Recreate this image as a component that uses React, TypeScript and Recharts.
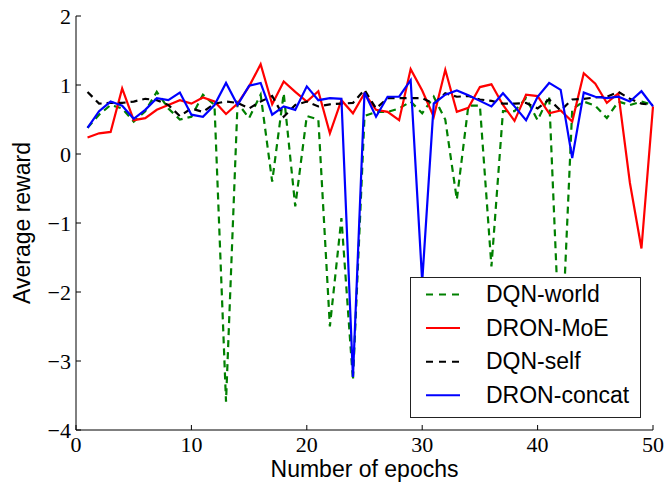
import React from 'react';
import { LineChart, Line, XAxis, YAxis, Legend, Label } from 'recharts';

const epochs = [1, 2, 3, 4, 5, 6, 7, 8, 9, 10, 11, 12, 13, 14, 15, 16, 17, 18, 19, 20, 21, 22, 23, 24, 25, 26, 27, 28, 29, 30, 31, 32, 33, 34, 35, 36, 37, 38, 39, 40, 41, 42, 43, 44, 45, 46, 47, 48, 49, 50];

const dqnWorld = [0.38, 0.57, 0.71, 0.66, 0.47, 0.62, 0.90, 0.66, 0.50, 0.54, 0.86, 0.71, -3.59, 0.74, 0.52, 0.86, -0.40, 0.88, -0.76, 0.55, 0.50, -2.50, -0.93, -3.28, 0.55, 0.61, 0.61, 0.66, 0.76, 0.59, 0.83, 0.50, -0.66, 0.70, 0.70, -1.63, 0.62, 0.62, 0.81, 0.49, 0.84, -3.15, 0.65, 0.76, 0.70, 0.52, 0.76, 0.71, 0.76, 0.71];

const dronMoE = [0.24, 0.30, 0.32, 0.95, 0.49, 0.52, 0.64, 0.71, 0.78, 0.73, 0.82, 0.76, 0.58, 0.73, 0.98, 1.30, 0.72, 1.05, 0.90, 0.76, 0.91, 0.30, 0.78, 0.59, 0.88, 0.64, 0.61, 0.49, 1.23, 0.92, 0.54, 1.22, 0.61, 0.67, 0.97, 1.01, 0.71, 0.48, 0.86, 0.84, 0.59, 0.63, 0.47, 1.17, 1.02, 0.74, 0.88, -0.42, -1.37, 0.69];

const dqnSelf = [0.90, 0.73, 0.74, 0.74, 0.76, 0.80, 0.78, 0.71, 0.55, 0.66, 0.61, 0.73, 0.76, 0.74, 0.66, 0.76, 0.84, 0.54, 0.71, 0.76, 0.69, 0.72, 0.73, 0.74, 0.93, 0.66, 0.81, 0.81, 0.81, 0.81, 0.73, 0.88, 0.83, 0.84, 0.79, 0.77, 0.73, 0.73, 0.74, 0.66, 0.79, 0.63, 0.79, 0.80, 0.82, 0.83, 0.90, 0.80, 0.73, 0.71];

const dronConcat = [0.38, 0.62, 0.76, 0.70, 0.51, 0.64, 0.81, 0.78, 0.89, 0.57, 0.54, 0.71, 1.03, 0.71, 0.99, 1.03, 0.57, 0.69, 0.64, 0.98, 0.78, 0.81, 0.80, -3.23, 0.89, 0.54, 0.83, 0.83, 1.07, -1.85, 0.73, 0.86, 0.92, 0.85, 0.77, 0.69, 0.88, 0.69, 0.49, 0.83, 1.03, 0.93, -0.06, 0.89, 0.83, 0.81, 0.83, 0.76, 0.91, 0.69];

const xTicks = [0, 10, 20, 30, 40, 50];
const yTicks = [-4, -3, -2, -1, 0, 1, 2];

const seriesKeys = ['world', 'moe', 'self', 'concat'];
const seriesNames = ['DQN-world', 'DRON-MoE', 'DQN-self', 'DRON-concat'];
const seriesColors = ['#008000', '#ff0000', '#000000', '#0000ff'];
const seriesDash = ['7 5', undefined, '7 5', undefined];

const data = epochs.map((e, i) => ({
  epoch: e,
  world: dqnWorld[i],
  moe: dronMoE[i],
  self: dqnSelf[i],
  concat: dronConcat[i],
}));

const SERIF = '"Liberation Serif", "DejaVu Serif", serif';
const SANS = '"Liberation Sans", Arial, sans-serif';
const TICK_LEN = 5;

const fmt = (v: number) => (v < 0 ? '\u2212' + Math.abs(v) : String(v));

const BottomTick = (props: any) => {
  const { x, y, payload } = props;
  return (
    <g>
      <line x1={x} x2={x} y1={y} y2={y - TICK_LEN} stroke="#000" strokeWidth={1} />
      <text x={x} y={y + 22} textAnchor="middle" fontFamily={SERIF} fontSize={22} fill="#000">
        {fmt(payload.value)}
      </text>
    </g>
  );
};

const TopTick = (props: any) => {
  const { x, y } = props;
  return <line x1={x} x2={x} y1={y} y2={y + TICK_LEN} stroke="#000" strokeWidth={1} />;
};

const LeftTick = (props: any) => {
  const { x, y, payload } = props;
  return (
    <g>
      <line x1={x} x2={x + TICK_LEN} y1={y} y2={y} stroke="#000" strokeWidth={1} />
      <text x={x - 5} y={y + 7.5} textAnchor="end" fontFamily={SERIF} fontSize={22} fill="#000">
        {fmt(payload.value)}
      </text>
    </g>
  );
};

const RightTick = (props: any) => {
  const { x, y } = props;
  return <line x1={x} x2={x - TICK_LEN} y1={y} y2={y} stroke="#000" strokeWidth={1} />;
};

const LegendBox = () => (
  <div
    style={{
      width: 231,
      height: 141,
      boxSizing: 'border-box',
      border: '1px solid #222',
      background: '#fff',
    }}
  >
    <svg width={229} height={139} style={{ display: 'block' }}>
      {seriesNames.map((n, i) => {
        const base = 24 + i * 33.6;
        return (
          <g key={n}>
            <line
              x1={15}
              x2={49}
              y1={base - 7.5}
              y2={base - 7.5}
              stroke={seriesColors[i]}
              strokeWidth={2}
              strokeDasharray={seriesDash[i] ? '7 6' : undefined}
            />
            <text x={75} y={base} fontFamily={SANS} fontSize={23} fill="#000">
              {n}
            </text>
          </g>
        );
      })}
    </svg>
  </div>
);

export default function App() {
  return (
    <div style={{ position: 'absolute', left: 0, top: 0, background: '#fff' }}>
      <LineChart
        width={665}
        height={487}
        data={data}
        margin={{ top: 16, right: 12, left: 0, bottom: 0 }}
      >
        <XAxis
          dataKey="epoch"
          type="number"
          domain={[0, 50]}
          ticks={xTicks}
          interval={0}
          height={57}
          tickSize={0}
          tickMargin={0}
          axisLine={{ stroke: '#000', strokeWidth: 1 }}
          tick={<BottomTick />}
        >
          <Label
            content={(p: any) => {
              const vb = p.viewBox;
              return (
                <text
                  x={vb.x + vb.width / 2}
                  y={vb.y + 47}
                  textAnchor="middle"
                  fontFamily={SANS}
                  fontSize={23}
                  fill="#000"
                >
                  Number of epochs
                </text>
              );
            }}
          />
        </XAxis>
        <XAxis
          xAxisId="top"
          orientation="top"
          dataKey="epoch"
          type="number"
          domain={[0, 50]}
          ticks={xTicks}
          interval={0}
          height={0}
          tickSize={0}
          tickMargin={0}
          axisLine={{ stroke: '#000', strokeWidth: 1 }}
          tick={<TopTick />}
        />
        <YAxis
          type="number"
          domain={[-4, 2]}
          ticks={yTicks}
          interval={0}
          width={76}
          tickSize={0}
          tickMargin={0}
          allowDataOverflow
          axisLine={{ stroke: '#000', strokeWidth: 1 }}
          tick={<LeftTick />}
        >
          <Label
            content={(p: any) => {
              const vb = p.viewBox;
              const cx = vb.x + 30;
              const cy = vb.y + vb.height / 2;
              return (
                <text
                  x={cx}
                  y={cy}
                  transform={`rotate(-90 ${cx} ${cy})`}
                  textAnchor="middle"
                  fontFamily={SANS}
                  fontSize={23}
                  fill="#000"
                >
                  Average reward
                </text>
              );
            }}
          />
        </YAxis>
        <YAxis
          yAxisId="right"
          orientation="right"
          type="number"
          domain={[-4, 2]}
          ticks={yTicks}
          interval={0}
          width={0}
          tickSize={0}
          tickMargin={0}
          allowDataOverflow
          axisLine={{ stroke: '#000', strokeWidth: 1 }}
          tick={<RightTick />}
        />
        {seriesKeys.map((k, i) => (
          <Line
            key={k}
            type="linear"
            dataKey={k}
            name={seriesNames[i]}
            stroke={seriesColors[i]}
            strokeWidth={2.2}
            strokeDasharray={seriesDash[i]}
            dot={false}
            activeDot={false}
            isAnimationActive={false}
          />
        ))}
        <Legend
          layout="vertical"
          align="center"
          verticalAlign="middle"
          content={<LegendBox />}
          wrapperStyle={{ position: 'absolute', left: 410, top: 277, width: 231, height: 141 }}
        />
      </LineChart>
    </div>
  );
}
